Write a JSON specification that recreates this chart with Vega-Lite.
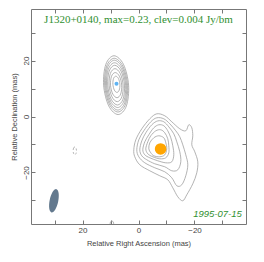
{
  "$schema": "https://vega.github.io/schema/vega-lite/v6.json",
  "autosize": {"type": "none"},
  "padding": {"left": 31, "top": 9, "right": 18, "bottom": 38},
  "width": 215,
  "height": 215,
  "background": "white",
  "config": {
    "view": {"stroke": "#777", "strokeWidth": 1},
    "axis": {"domain": false, "grid": false, "tickColor": "#777", "tickSize": -4, "tickWidth": 1,
      "labelFont": "Liberation Sans", "labelFontSize": 8, "labelColor": "#444",
      "titleFont": "Liberation Sans", "titleFontSize": 7.5, "titleFontWeight": "normal", "titleColor": "#444"}
  },
  "datasets": {
    "contours": [
      {"c":"a1","o":0,"x":8.74,"y":21.7},{"c":"a1","o":1,"x":11.67,"y":18.62},{"c":"a1","o":2,"x":12.46,"y":11.2},{"c":"a1","o":3,"x":10.63,"y":3.78},{"c":"a1","o":4,"x":7.27,"y":0.7},{"c":"a1","o":5,"x":4.33,"y":3.78},{"c":"a1","o":6,"x":3.54,"y":11.2},{"c":"a1","o":7,"x":5.37,"y":18.62},
      {"c":"a2","o":0,"x":8.67,"y":20.8},{"c":"a2","o":1,"x":11.38,"y":17.99},{"c":"a2","o":2,"x":12.1,"y":11.2},{"c":"a2","o":3,"x":10.42,"y":4.41},{"c":"a2","o":4,"x":7.33,"y":1.6},{"c":"a2","o":5,"x":4.62,"y":4.41},{"c":"a2","o":6,"x":3.9,"y":11.2},{"c":"a2","o":7,"x":5.58,"y":17.99},
      {"c":"a3","o":0,"x":8.62,"y":20.1},{"c":"a3","o":1,"x":11.09,"y":17.49},{"c":"a3","o":2,"x":11.75,"y":11.2},{"c":"a3","o":3,"x":10.21,"y":4.91},{"c":"a3","o":4,"x":7.38,"y":2.3},{"c":"a3","o":5,"x":4.91,"y":4.91},{"c":"a3","o":6,"x":4.25,"y":11.2},{"c":"a3","o":7,"x":5.79,"y":17.49},
      {"c":"a4","o":0,"x":8.56,"y":19.2},{"c":"a4","o":1,"x":10.8,"y":16.86},{"c":"a4","o":2,"x":11.4,"y":11.2},{"c":"a4","o":3,"x":10.0,"y":5.54},{"c":"a4","o":4,"x":7.44,"y":3.2},{"c":"a4","o":5,"x":5.2,"y":5.54},{"c":"a4","o":6,"x":4.6,"y":11.2},{"c":"a4","o":7,"x":6.0,"y":16.86},
      {"c":"a5","o":0,"x":8.5,"y":18.3},{"c":"a5","o":1,"x":10.47,"y":16.22},{"c":"a5","o":2,"x":11.0,"y":11.2},{"c":"a5","o":3,"x":9.77,"y":6.18},{"c":"a5","o":4,"x":7.5,"y":4.1},{"c":"a5","o":5,"x":5.53,"y":6.18},{"c":"a5","o":6,"x":5.0,"y":11.2},{"c":"a5","o":7,"x":6.23,"y":16.22},
      {"c":"a6","o":0,"x":8.41,"y":17.1},{"c":"a6","o":1,"x":10.06,"y":15.37},{"c":"a6","o":2,"x":10.5,"y":11.2},{"c":"a6","o":3,"x":9.48,"y":7.03},{"c":"a6","o":4,"x":7.59,"y":5.3},{"c":"a6","o":5,"x":5.94,"y":7.03},{"c":"a6","o":6,"x":5.5,"y":11.2},{"c":"a6","o":7,"x":6.52,"y":15.37},
      {"c":"a7","o":0,"x":8.32,"y":15.7},{"c":"a7","o":1,"x":9.63,"y":14.38},{"c":"a7","o":2,"x":10.0,"y":11.2},{"c":"a7","o":3,"x":9.19,"y":8.02},{"c":"a7","o":4,"x":7.68,"y":6.7},{"c":"a7","o":5,"x":6.37,"y":8.02},{"c":"a7","o":6,"x":6.0,"y":11.2},{"c":"a7","o":7,"x":6.81,"y":14.38},
      {"c":"a8","o":0,"x":8.1,"y":14.4},{"c":"a8","o":1,"x":8.92,"y":13.55},{"c":"a8","o":2,"x":9.15,"y":11.5},{"c":"a8","o":3,"x":8.64,"y":9.45},{"c":"a8","o":4,"x":7.7,"y":8.6},{"c":"a8","o":5,"x":6.88,"y":9.45},{"c":"a8","o":6,"x":6.65,"y":11.5},{"c":"a8","o":7,"x":7.16,"y":13.55},
      {"c":"b1","o":0,"x":1.68,"y":-11.89},{"c":"b1","o":1,"x":0.96,"y":-8.32},{"c":"b1","o":2,"x":-1.18,"y":-4.39},{"c":"b1","o":3,"x":-4.04,"y":-0.82},{"c":"b1","o":4,"x":-6.54,"y":0.96},{"c":"b1","o":5,"x":-9.39,"y":0.25},{"c":"b1","o":6,"x":-11.89,"y":-1.89},{"c":"b1","o":7,"x":-14.75,"y":-4.39},{"c":"b1","o":8,"x":-16.89,"y":-5.11},{"c":"b1","o":9,"x":-17.96,"y":-2.96},{"c":"b1","o":10,"x":-19.04,"y":-4.04},{"c":"b1","o":11,"x":-19.39,"y":-6.89},{"c":"b1","o":12,"x":-19.04,"y":-10.11},{"c":"b1","o":13,"x":-20.11,"y":-12.61},{"c":"b1","o":14,"x":-21.18,"y":-16.18},{"c":"b1","o":15,"x":-20.82,"y":-20.11},{"c":"b1","o":16,"x":-19.39,"y":-24.04},{"c":"b1","o":17,"x":-17.25,"y":-27.96},{"c":"b1","o":18,"x":-15.82,"y":-30.11},{"c":"b1","o":19,"x":-14.04,"y":-28.68},{"c":"b1","o":20,"x":-12.25,"y":-25.46},{"c":"b1","o":21,"x":-10.46,"y":-22.61},{"c":"b1","o":22,"x":-7.61,"y":-21.18},{"c":"b1","o":23,"x":-4.04,"y":-19.39},{"c":"b1","o":24,"x":-0.46,"y":-17.25},{"c":"b1","o":25,"x":1.32,"y":-14.39},
      {"c":"b2","o":0,"x":0.61,"y":-11.89},{"c":"b2","o":1,"x":-0.11,"y":-8.32},{"c":"b2","o":2,"x":-1.89,"y":-5.11},{"c":"b2","o":3,"x":-4.39,"y":-1.89},{"c":"b2","o":4,"x":-6.54,"y":-0.46},{"c":"b2","o":5,"x":-9.04,"y":-0.82},{"c":"b2","o":6,"x":-11.18,"y":-2.61},{"c":"b2","o":7,"x":-13.32,"y":-5.11},{"c":"b2","o":8,"x":-14.75,"y":-7.25},{"c":"b2","o":9,"x":-15.82,"y":-10.11},{"c":"b2","o":10,"x":-16.89,"y":-13.68},{"c":"b2","o":11,"x":-17.61,"y":-17.25},{"c":"b2","o":12,"x":-16.89,"y":-21.18},{"c":"b2","o":13,"x":-15.46,"y":-24.39},{"c":"b2","o":14,"x":-13.68,"y":-24.75},{"c":"b2","o":15,"x":-11.89,"y":-21.89},{"c":"b2","o":16,"x":-9.39,"y":-19.75},{"c":"b2","o":17,"x":-5.82,"y":-18.32},{"c":"b2","o":18,"x":-2.25,"y":-16.54},{"c":"b2","o":19,"x":-0.11,"y":-14.39},
      {"c":"b3","o":0,"x":-0.46,"y":-11.89},{"c":"b3","o":1,"x":-1.18,"y":-8.68},{"c":"b3","o":2,"x":-2.61,"y":-5.82},{"c":"b3","o":3,"x":-4.75,"y":-2.96},{"c":"b3","o":4,"x":-6.89,"y":-1.57},{"c":"b3","o":5,"x":-9.04,"y":-1.89},{"c":"b3","o":6,"x":-10.82,"y":-3.68},{"c":"b3","o":7,"x":-12.61,"y":-6.18},{"c":"b3","o":8,"x":-13.68,"y":-9.04},{"c":"b3","o":9,"x":-14.75,"y":-12.61},{"c":"b3","o":10,"x":-15.11,"y":-16.18},{"c":"b3","o":11,"x":-14.04,"y":-19.04},{"c":"b3","o":12,"x":-11.89,"y":-19.39},{"c":"b3","o":13,"x":-9.39,"y":-17.96},{"c":"b3","o":14,"x":-5.82,"y":-16.89},{"c":"b3","o":15,"x":-2.96,"y":-15.46},{"c":"b3","o":16,"x":-1.18,"y":-14.04},
      {"c":"b4","o":0,"x":-1.54,"y":-11.89},{"c":"b4","o":1,"x":-2.25,"y":-9.04},{"c":"b4","o":2,"x":-3.68,"y":-6.54},{"c":"b4","o":3,"x":-5.46,"y":-4.04},{"c":"b4","o":4,"x":-7.25,"y":-2.96},{"c":"b4","o":5,"x":-9.04,"y":-3.32},{"c":"b4","o":6,"x":-10.46,"y":-5.11},{"c":"b4","o":7,"x":-11.54,"y":-7.61},{"c":"b4","o":8,"x":-12.25,"y":-10.46},{"c":"b4","o":9,"x":-12.61,"y":-13.68},{"c":"b4","o":10,"x":-11.89,"y":-16.18},{"c":"b4","o":11,"x":-9.75,"y":-16.54},{"c":"b4","o":12,"x":-6.89,"y":-15.82},{"c":"b4","o":13,"x":-4.04,"y":-14.75},{"c":"b4","o":14,"x":-2.25,"y":-13.68},
      {"c":"b5","o":0,"x":-2.61,"y":-11.54},{"c":"b5","o":1,"x":-3.32,"y":-9.04},{"c":"b5","o":2,"x":-4.39,"y":-6.89},{"c":"b5","o":3,"x":-6.18,"y":-5.11},{"c":"b5","o":4,"x":-7.96,"y":-4.75},{"c":"b5","o":5,"x":-9.39,"y":-5.82},{"c":"b5","o":6,"x":-10.46,"y":-7.96},{"c":"b5","o":7,"x":-10.82,"y":-10.46},{"c":"b5","o":8,"x":-10.82,"y":-12.96},{"c":"b5","o":9,"x":-9.75,"y":-14.75},{"c":"b5","o":10,"x":-7.61,"y":-15.11},{"c":"b5","o":11,"x":-5.11,"y":-14.39},{"c":"b5","o":12,"x":-3.32,"y":-13.32},
      {"c":"b6","o":0,"x":-3.68,"y":-11.54},{"c":"b6","o":1,"x":-4.04,"y":-9.39},{"c":"b6","o":2,"x":-5.46,"y":-7.61},{"c":"b6","o":3,"x":-7.25,"y":-6.89},{"c":"b6","o":4,"x":-9.04,"y":-7.61},{"c":"b6","o":5,"x":-9.75,"y":-9.39},{"c":"b6","o":6,"x":-10.11,"y":-11.54},{"c":"b6","o":7,"x":-9.39,"y":-13.68},{"c":"b6","o":8,"x":-7.61,"y":-14.39},{"c":"b6","o":9,"x":-5.46,"y":-14.04},{"c":"b6","o":10,"x":-4.39,"y":-12.96},
      {"c":"s1","o":0,"x":9.5,"y":-37.3},{"c":"s1","o":1,"x":9.0,"y":-37.7},{"c":"s1","o":2,"x":8.9,"y":-38.5},{"c":"s1","o":3,"x":9.5,"y":-39.0},{"c":"s1","o":4,"x":10.1,"y":-38.5},{"c":"s1","o":5,"x":10.0,"y":-37.7}
    ],
    "negative": [
      {"c":"n1","o":0,"x":22.75,"y":-10.85},{"c":"n1","o":1,"x":23.17,"y":-11.26},{"c":"n1","o":2,"x":23.35,"y":-12.25},{"c":"n1","o":3,"x":23.17,"y":-13.24},{"c":"n1","o":4,"x":22.75,"y":-13.65},{"c":"n1","o":5,"x":22.33,"y":-13.24},{"c":"n1","o":6,"x":22.15,"y":-12.25},{"c":"n1","o":7,"x":22.33,"y":-11.26}
    ],
    "beam": [{"x": 30.2, "y": -30.1}],
    "comp1": [{"x": 7.86, "y": 11.68}],
    "comp2": [{"x": -7.9, "y": -11.6}],
    "label": [{"x": 0, "y": 34.5, "t": "J1320+0140, max=0.23, clev=0.004 Jy/bm"}],
    "date": [{"x": -36.9, "y": -34.8, "t": "1995-07-15"}]
  },
  "resolve": {"axis": {"x": "independent", "y": "independent"}},
  "layer": [
    {
      "data": {"name": "contours"},
      "mark": {"type": "line", "interpolate": "cardinal-closed", "stroke": "#9a9a9a", "strokeWidth": 0.75, "clip": true},
      "encoding": {
        "x": {"field": "x", "type": "quantitative", "scale": {"domain": [-38.4, 38.4], "reverse": true, "nice": false, "zero": false},
          "axis": {"orient": "bottom", "values": [-30, -20, -10, 0, 10, 20, 30], "labelExpr": "datum.value % 20 == 0 ? datum.label : ''", "labelPadding": 6, "title": "Relative Right Ascension (mas)", "titlePadding": 5}},
        "y": {"field": "y", "type": "quantitative", "scale": {"domain": [-38.4, 38.4], "nice": false, "zero": false},
          "axis": {"orient": "left", "values": [-30, -20, -10, 0, 10, 20, 30], "labelExpr": "datum.value % 20 == 0 ? datum.label : ''", "labelAngle": -90, "labelAlign": "center", "labelBaseline": "bottom", "labelPadding": 5, "title": "Relative Declination (mas)", "titlePadding": 4}},
        "detail": {"field": "c"},
        "order": {"field": "o", "type": "quantitative"}
      }
    },
    {
      "data": {"name": "negative"},
      "mark": {"type": "line", "interpolate": "cardinal-closed", "stroke": "#9a9a9a", "strokeWidth": 0.75, "strokeDash": [2, 2]},
      "encoding": {
        "x": {"field": "x", "type": "quantitative", "axis": null},
        "y": {"field": "y", "type": "quantitative", "axis": null},
        "detail": {"field": "c"},
        "order": {"field": "o", "type": "quantitative"}
      }
    },
    {
      "data": {"name": "beam"},
      "mark": {"type": "point", "shape": "M0,-1 A0.36,1 0 1,1 0,1 A0.36,1 0 1,1 0,-1 Z", "size": 566, "angle": 12, "filled": true, "fill": "#63798e", "opacity": 1, "strokeWidth": 0},
      "encoding": {
        "x": {"field": "x", "type": "quantitative", "axis": null},
        "y": {"field": "y", "type": "quantitative", "axis": null}
      }
    },
    {
      "data": {"name": "comp1"},
      "mark": {"type": "circle", "size": 16, "color": "#5fb3f2", "opacity": 1},
      "encoding": {
        "x": {"field": "x", "type": "quantitative", "axis": null},
        "y": {"field": "y", "type": "quantitative", "axis": null}
      }
    },
    {
      "data": {"name": "comp2"},
      "mark": {"type": "circle", "size": 135, "color": "#ffa500", "opacity": 1},
      "encoding": {
        "x": {"field": "x", "type": "quantitative", "axis": null},
        "y": {"field": "y", "type": "quantitative", "axis": null}
      }
    },
    {
      "data": {"name": "label"},
      "mark": {"type": "text", "font": "Liberation Serif", "fontSize": 11, "color": "#2f8f2f", "align": "center", "baseline": "middle"},
      "encoding": {
        "x": {"field": "x", "type": "quantitative", "axis": null},
        "y": {"field": "y", "type": "quantitative", "axis": null},
        "text": {"field": "t"}
      }
    },
    {
      "data": {"name": "date"},
      "mark": {"type": "text", "font": "Liberation Sans", "fontSize": 9.5, "fontStyle": "italic", "color": "#2f8f2f", "align": "right", "baseline": "middle"},
      "encoding": {
        "x": {"field": "x", "type": "quantitative", "axis": null},
        "y": {"field": "y", "type": "quantitative", "axis": null},
        "text": {"field": "t"}
      }
    },
    {
      "data": {"name": "beam"},
      "mark": {"type": "point", "opacity": 0},
      "encoding": {
        "x": {"field": "x", "type": "quantitative", "axis": {"orient": "top", "values": [-30, -20, -10, 0, 10, 20, 30], "labels": false, "title": null}},
        "y": {"field": "y", "type": "quantitative", "axis": {"orient": "right", "values": [-30, -20, -10, 0, 10, 20, 30], "labels": false, "title": null}}
      }
    }
  ]
}
